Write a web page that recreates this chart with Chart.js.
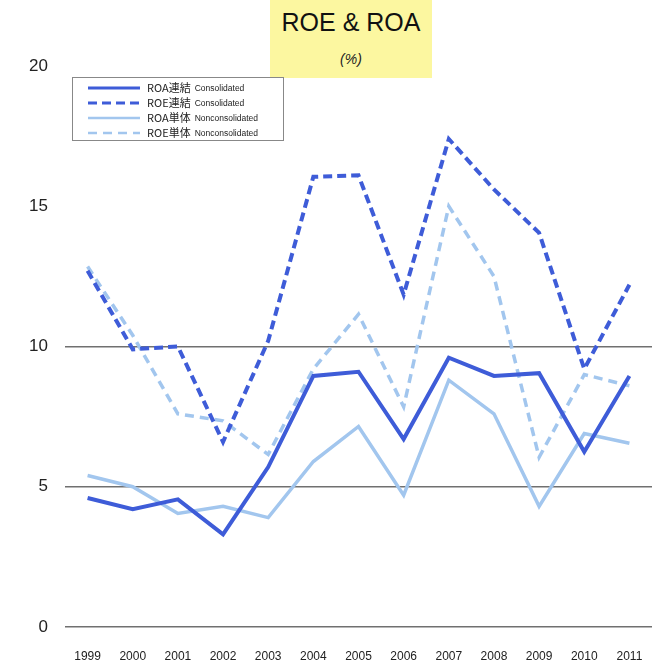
<!DOCTYPE html>
<html>
<head>
<meta charset="utf-8">
<script src="https://cdn.jsdelivr.net/npm/chart.js@4/dist/chart.umd.min.js"></script>
<style>
  body { margin: 0; background: #fff; }
  #wrap { position: relative; width: 660px; height: 662px; }
  #titlebox {
    position: absolute; left: 270px; top: 0; width: 162px; height: 78px;
    background: #fcf7a0; text-align: center; font-family: "Liberation Sans", Arial, sans-serif;
  }
  #titlebox .t { font-size: 25px; margin-top: 8px; color: #111; }
  #titlebox .u { font-size: 14px; font-style: italic; margin-top: 14px; color: #222; }
  canvas { position: absolute; left: 0; top: 0; }
</style>
</head>
<body>
<div id="wrap">
  <div id="titlebox"><div class="t">ROE &amp; ROA</div><div class="u">(%)</div></div>
  <canvas id="chart" width="660" height="662"></canvas>
</div>
<script>
const years = ['1999','2000','2001','2002','2003','2004','2005','2006','2007','2008','2009','2010','2011'];
const roaCons = [4.6, 4.2, 4.55, 3.3, 5.7, 8.95, 9.1, 6.7, 9.6, 8.95, 9.05, 6.25, 8.95];
const roeCons = [12.7, 9.9, 10.0, 6.6, 10.2, 16.05, 16.1, 11.85, 17.4, 15.6, 14.05, 9.2, 12.2];
const roaNon = [5.4, 5.0, 4.05, 4.3, 3.9, 5.9, 7.15, 4.7, 8.8, 7.6, 4.3, 6.9, 6.55];
const roeNon = [12.85, 10.4, 7.6, 7.35, 6.15, 9.2, 11.15, 7.85, 15.0, 12.5, 6.05, 9.0, 8.6];
const yTicks = [0, 5, 10, 15, 20];
const gridAt = [0, 5, 10];

const darkBlue = '#3e5cd8';
const lightBlue = '#a2c6ee';

// legend drawn inside the plot, top left
const boxLegend = {
  id: 'boxLegend',
  afterDraw(chart) {
    const ctx = chart.ctx;
    ctx.save();
    ctx.fillStyle = '#fff';
    ctx.fillRect(72, 77, 211, 63);
    ctx.strokeStyle = '#888';
    ctx.lineWidth = 1;
    ctx.strokeRect(72.5, 77.5, 211, 63);
    chart.data.datasets.forEach((ds, i) => {
      const y = 88 + i * 15;
      ctx.beginPath();
      ctx.strokeStyle = ds.borderColor;
      ctx.lineWidth = ds.borderWidth - 1;
      ctx.setLineDash(ds.borderDash || []);
      ctx.moveTo(88, y);
      ctx.lineTo(140, y);
      ctx.stroke();
      ctx.setLineDash([]);
      const parts = ds.label.split(' ');
      ctx.fillStyle = '#222';
      ctx.textBaseline = 'middle';
      ctx.font = '11px "Noto Sans CJK JP", sans-serif';
      ctx.fillText(parts[0], 147, y);
      const w = ctx.measureText(parts[0]).width;
      ctx.font = '8.5px "Liberation Sans", sans-serif';
      ctx.fillText(parts[1], 147 + w + 4, y + 1);
    });
    ctx.restore();
  }
};

new Chart(document.getElementById('chart'), {
  type: 'line',
  data: {
    labels: years,
    datasets: [
      { label: 'ROA連結 Consolidated', data: roaCons, borderColor: darkBlue, borderWidth: 4 },
      { label: 'ROE連結 Consolidated', data: roeCons, borderColor: darkBlue, borderWidth: 4, borderDash: [9, 5] },
      { label: 'ROA単体 Nonconsolidated', data: roaNon, borderColor: lightBlue, borderWidth: 3.5 },
      { label: 'ROE単体 Nonconsolidated', data: roeNon, borderColor: lightBlue, borderWidth: 3.5, borderDash: [9, 6] }
    ]
  },
  options: {
    responsive: false,
    animation: false,
    layout: { padding: { left: 0, right: 8, top: 66, bottom: 0 } },
    elements: { point: { radius: 0 }, line: { tension: 0, fill: false } },
    plugins: { legend: { display: false }, tooltip: { enabled: false } },
    scales: {
      x: {
        offset: true,
        grid: { display: false },
        border: { display: false },
        ticks: { color: '#222', font: { family: 'Liberation Sans', size: 12 }, padding: 14, maxRotation: 0, autoSkip: false },
        afterFit(axis) { axis.height = 35; }
      },
      y: {
        min: 0, max: 20,
        afterBuildTicks(axis) { axis.ticks = yTicks.map(v => ({ value: v })); },
        grid: {
          drawTicks: false,
          lineWidth: 1.5,
          color: c => gridAt.includes(c.tick.value) ? '#707070' : 'rgba(0,0,0,0)'
        },
        border: { display: false },
        ticks: { color: '#222', font: { family: 'Liberation Sans', size: 17 }, padding: 17 },
        afterFit(axis) { axis.width = 65; }
      }
    }
  },
  plugins: [boxLegend]
});
</script>
</body>
</html>
